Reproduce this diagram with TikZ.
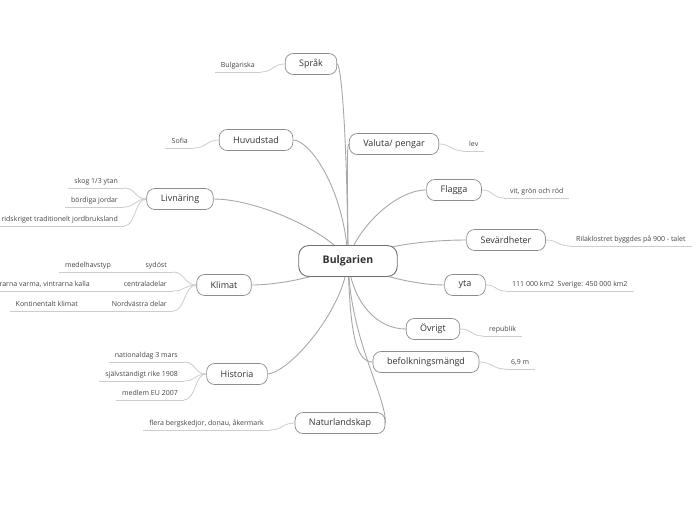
\documentclass[tikz,border=0pt]{standalone}
\usepackage{fontspec}
\setmainfont{Open Sans}
\usetikzlibrary{backgrounds}
\definecolor{nodegray}{HTML}{8C8C8C}
\definecolor{rootgray}{HTML}{707070}
\definecolor{edgegray}{HTML}{A8A8A8}
\definecolor{leafgray}{HTML}{CDCDCD}
\definecolor{textdark}{HTML}{333333}
\definecolor{leaftext}{HTML}{444444}
\tikzset{
  rootnode/.style={draw=rootgray, line width=0.9pt, rounded corners=10pt, fill=white,
    font=\fontsize{10.5}{12}\selectfont\bfseries, text=textdark, minimum height=31pt, inner xsep=24pt, inner ysep=0pt},
  mainnode/.style={draw=nodegray, line width=0.7pt, rounded corners=8pt, fill=white,
    font=\fontsize{9}{10}\selectfont, text=textdark, minimum height=21pt, inner xsep=14pt, inner ysep=0pt},
  leaf/.style={font=\fontsize{7}{8}\selectfont, text=leaftext, inner xsep=6pt, inner ysep=2.6pt,
    text height=5.3pt, text depth=1.5pt},
  mainedge/.style={draw=edgegray, line width=0.9pt},
  leafedge/.style={draw=leafgray, line width=0.8pt}
}
\begin{document}
\begin{tikzpicture}[x=1pt,y=-1pt]
\useasboundingbox (0,0) rectangle (696,520);
% main nodes
\node[rootnode] (root) at (348,261) {Bulgarien};
\node[mainnode] (sprak) at (311,64) {Språk};
\node[mainnode] (valuta) at (394,144) {Valuta/ pengar};
\node[mainnode] (huvud) at (256,140) {Huvudstad};
\node[mainnode] (flagga) at (454,190) {Flagga};
\node[mainnode] (livn) at (180,199) {Livnäring};
\node[mainnode] (sevard) at (506,240) {Sevärdheter};
\node[mainnode] (yta) at (465,285) {yta};
\node[mainnode] (klimat) at (224,285) {Klimat};
\node[mainnode] (ovrigt) at (433,329) {Övrigt};
\node[mainnode] (befolk) at (426,362) {befolkningsmängd};
\node[mainnode] (hist) at (237,374) {Historia};
\node[mainnode] (natur) at (340,423) {Naturlandskap};
% left leaves
\node[leaf, anchor=south east] (s1) at (261,72) {Bulgariska};
\node[leaf, anchor=south east] (h1) at (194,148) {Sofia};
\node[leaf, anchor=south east] (l1) at (124,188) {skog 1/3 ytan};
\node[leaf, anchor=south east] (l2) at (124,207) {bördiga jordar};
\node[leaf, anchor=south east] (l3) at (124,226) {ridskriget traditionelt jordbruksland};
\node[leaf, anchor=south east] (k1) at (173,272) {sydöst};
\node[leaf, anchor=south east] (k1b) at (117,272) {medelhavstyp};
\node[leaf, anchor=south east] (k2) at (173,291) {centraladelar};
\node[leaf, anchor=south east] (k2b) at (96,291) {rarna varma, vintrarna kalla};
\node[leaf, anchor=south east] (k3) at (173,311) {Nordvästra delar};
\node[leaf, anchor=south east] (k3b) at (84,311) {Kontinentalt klimat};
\node[leaf, anchor=south east] (t1) at (184,362) {nationaldag 3 mars};
\node[leaf, anchor=south east] (t2) at (184,381) {självständigt rike 1908};
\node[leaf, anchor=south east] (t3) at (184,400) {medlem EU 2007};
\node[leaf, anchor=south east] (n1) at (270,430) {flera bergskedjor, donau, åkermark};
% right leaves
\node[leaf, anchor=south west] (v1) at (463,151) {lev};
\node[leaf, anchor=south west] (f1) at (504,198) {vit, grön och röd};
\node[leaf, anchor=south west] (r1) at (570,246) {Rilaklostret byggdes på 900 - talet};
\node[leaf, anchor=south west] (y1) at (506,291) {111 000 km2~ Sverige: 450 000 km2};
\node[leaf, anchor=south west] (o1) at (483,336) {republik};
\node[leaf, anchor=south west] (b1) at (505,369) {6,9 m};
\begin{scope}[on background layer]
% main connectors
\draw[mainedge] (root.center) .. controls (347,130) and (341,64) .. (sprak.east);
\draw[mainedge] (root.center) .. controls (348,200) and (346,144) .. (valuta.west);
\draw[mainedge] (root.center) .. controls (345,190) and (310,140) .. (huvud.east);
\draw[mainedge] (root.center) .. controls (335,235) and (260,199) .. (livn.east);
\draw[mainedge] (root.center) .. controls (330,275) and (280,285) .. (klimat.east);
\draw[mainedge] (root.center) .. controls (344,310) and (290,372) .. (hist.east);
\draw[mainedge] (root.center) .. controls (350,340) and (386,395) .. (natur.east);
\draw[mainedge] (root.center) .. controls (350,330) and (355,362) .. (befolk.west);
\draw[mainedge] (root.center) .. controls (352,300) and (375,329) .. (ovrigt.west);
\draw[mainedge] (root.center) .. controls (375,275) and (415,285) .. (yta.west);
\draw[mainedge] (root.center) .. controls (380,245) and (430,240) .. (sevard.west);
\draw[mainedge] (root.center) .. controls (355,230) and (395,190) .. (flagga.west);
% leaf connectors (left)
\draw[leafedge] (sprak.west) .. controls +(-12,0) and +(12,0) .. (s1.south east);
\draw[leafedge] (huvud.west) .. controls +(-12,0) and +(12,0) .. (h1.south east);
\draw[leafedge] (livn.west) .. controls +(-12,0) and +(12,0) .. (l1.south east);
\draw[leafedge] (livn.west) .. controls +(-12,0) and +(12,0) .. (l2.south east);
\draw[leafedge] (livn.west) .. controls +(-12,0) and +(12,0) .. (l3.south east);
\draw[leafedge] (klimat.west) .. controls +(-12,0) and +(12,0) .. (k1.south east);
\draw[leafedge] (klimat.west) .. controls +(-12,0) and +(12,0) .. (k2.south east);
\draw[leafedge] (klimat.west) .. controls +(-12,0) and +(12,0) .. (k3.south east);
\draw[leafedge] (k1.south west) -- (k1b.south east);
\draw[leafedge] (k2.south west) -- (k2b.south east);
\draw[leafedge] (k3.south west) -- (k3b.south east);
\draw[leafedge] (hist.west) .. controls +(-12,0) and +(12,0) .. (t1.south east);
\draw[leafedge] (hist.west) .. controls +(-12,0) and +(12,0) .. (t2.south east);
\draw[leafedge] (hist.west) .. controls +(-12,0) and +(12,0) .. (t3.south east);
\draw[leafedge] (natur.west) .. controls +(-12,0) and +(12,0) .. (n1.south east);
% leaf connectors (right)
\draw[leafedge] (valuta.east) .. controls +(12,0) and +(-12,0) .. (v1.south west);
\draw[leafedge] (flagga.east) .. controls +(12,0) and +(-12,0) .. (f1.south west);
\draw[leafedge] (sevard.east) .. controls +(12,0) and +(-12,0) .. (r1.south west);
\draw[leafedge] (yta.east) .. controls +(12,0) and +(-12,0) .. (y1.south west);
\draw[leafedge] (ovrigt.east) .. controls +(12,0) and +(-12,0) .. (o1.south west);
\draw[leafedge] (befolk.east) .. controls +(12,0) and +(-12,0) .. (b1.south west);
% underlines
\foreach \n in {s1,h1,l1,l2,l3,k1,k1b,k2,k2b,k3,k3b,t1,t2,t3,n1,v1,f1,r1,y1,o1,b1}
  \draw[leafedge] (\n.south west) -- (\n.south east);
\end{scope}
\end{tikzpicture}
\end{document}
